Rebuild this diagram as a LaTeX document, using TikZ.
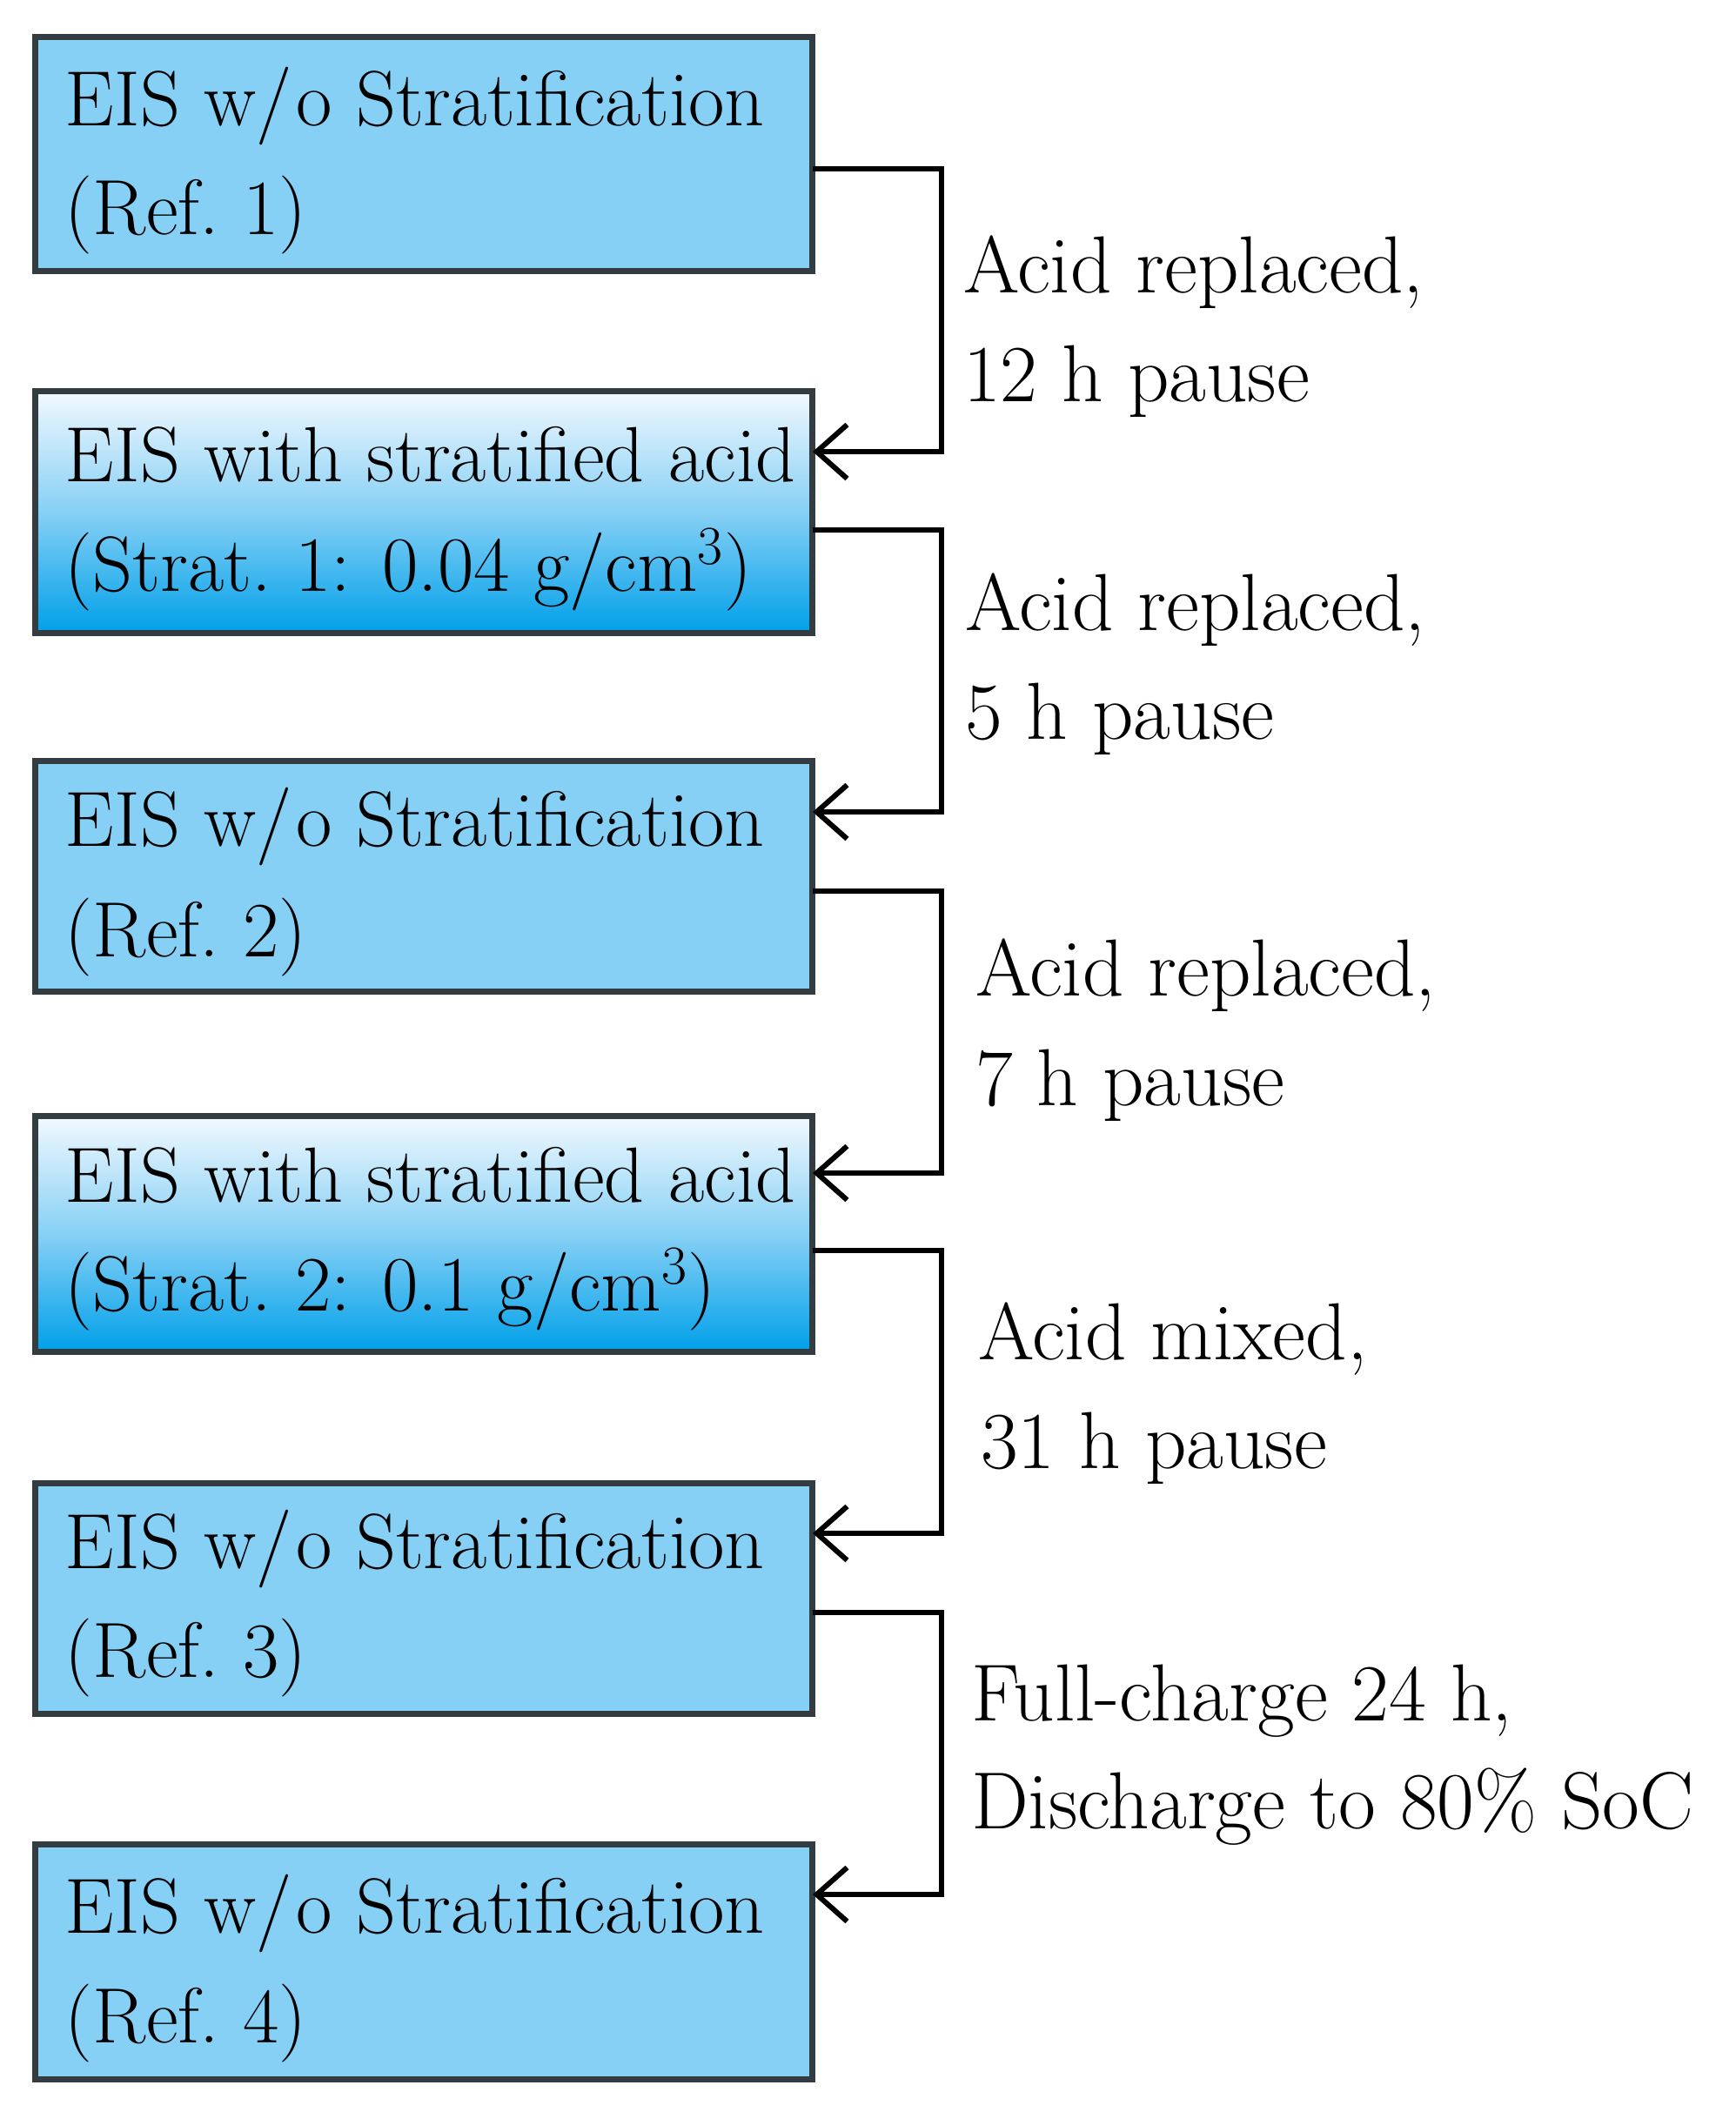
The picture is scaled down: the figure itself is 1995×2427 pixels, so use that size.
\documentclass[tikz,border=0pt]{standalone}
\usetikzlibrary{arrows.meta,calc}
\definecolor{flatblue}{RGB}{135,208,245}
\definecolor{gtop}{RGB}{242,249,254}
\definecolor{gmid}{RGB}{135,208,245}
\definecolor{gbot}{RGB}{0,160,233}
\definecolor{edgegray}{RGB}{50,60,65}
\tikzset{
  boxbase/.style={draw=edgegray, line width=2.1pt, rectangle, inner sep=0pt, outer sep=0pt,
    minimum width=268.2pt, anchor=north west},
  flatbox/.style={boxbase, fill=flatblue},
  gradbox/.style={boxbase, top color=gtop, bottom color=gbot, middle color=gmid},
  txt/.style={anchor=base west, inner sep=0pt, outer sep=0pt, font=\fontsize{27}{32}\selectfont},
  lbl/.style={anchor=base west, inner sep=0pt, outer sep=0pt, font=\fontsize{27.9}{33}\selectfont},
  conn/.style={draw=black, line width=1.8pt, -{Straight Barb[length=10.5pt,width=18.6pt]}},
}
\newcommand{\wo}{w/\kern1.5pt o}
\begin{document}
\begin{tikzpicture}[x=0.3pt,y=-0.3pt]
\useasboundingbox (0,0) rectangle (1995,2427);

% boxes
\node[flatbox, minimum height=80.7pt] (b1) at (40,42) {};
\node[gradbox, minimum height=83.4pt] (b2) at (40,449) {};
\node[flatbox, minimum height=79.5pt] (b3) at (40,874) {};
\node[gradbox, minimum height=81.3pt] (b4) at (40,1282) {};
\node[flatbox, minimum height=79.5pt] (b5) at (40,1704) {};
\node[flatbox, minimum height=81pt] (b6) at (40,2119) {};

% box texts
\node[txt] (t1a) at (75,144) {EIS \wo\ Stratification};
\node[txt] (t1b) at (75,269) {(Ref.\ 1)};
\node[txt] (t2a) at (75,553) {EIS with stratified acid};
\node[txt] (t2b) at (75,679) {(Strat.\ 1: 0.04 g/cm\textsuperscript{3})};
\node[txt] (t3a) at (75,972) {EIS \wo\ Stratification};
\node[txt] (t3b) at (75,1099) {(Ref.\ 2)};
\node[txt] (t4a) at (75,1381) {EIS with stratified acid};
\node[txt] (t4b) at (75,1506) {(Strat.\ 2: 0.1 g/cm\textsuperscript{3})};
\node[txt] (t5a) at (75,1802) {EIS \wo\ Stratification};
\node[txt] (t5b) at (75,1927) {(Ref.\ 3)};
\node[txt] (t6a) at (75,2221) {EIS \wo\ Stratification};
\node[txt] (t6b) at (75,2347) {(Ref.\ 4)};

% connectors
\draw[conn] ($(b1.north east)+(0,152)$) -- ++(148,0) |- ($(b2.north east)+(0,70)$);
\draw[conn] ($(b2.north east)+(0,160)$) -- ++(148,0) |- ($(b3.north east)+(0,59)$);
\draw[conn] ($(b3.north east)+(0,150)$) -- ++(148,0) |- ($(b4.north east)+(0,66)$);
\draw[conn] ($(b4.north east)+(0,155)$) -- ++(148,0) |- ($(b5.north east)+(0,58)$);
\draw[conn] ($(b5.north east)+(0,149)$) -- ++(148,0) |- ($(b6.north east)+(0,58)$);

% connector labels
\node[lbl] (l1a) at (1107,336) {Acid replaced,};
\node[lbl] (l1b) at (1107,461) {12 h pause};
\node[lbl] (l2a) at (1109,724) {Acid replaced,};
\node[lbl] (l2b) at (1109,849) {5 h pause};
\node[lbl] (l3a) at (1121,1144) {Acid replaced,};
\node[lbl] (l3b) at (1121,1270) {7 h pause};
\node[lbl] (l4a) at (1124,1562) {Acid mixed,};
\node[lbl] (l4b) at (1127,1687) {31 h pause};
\node[lbl] (l5a) at (1116,1977) {Full-charge 24 h,};
\node[lbl] (l5b) at (1116,2101) {Discharge to 80\% SoC};
\end{tikzpicture}
\end{document}
